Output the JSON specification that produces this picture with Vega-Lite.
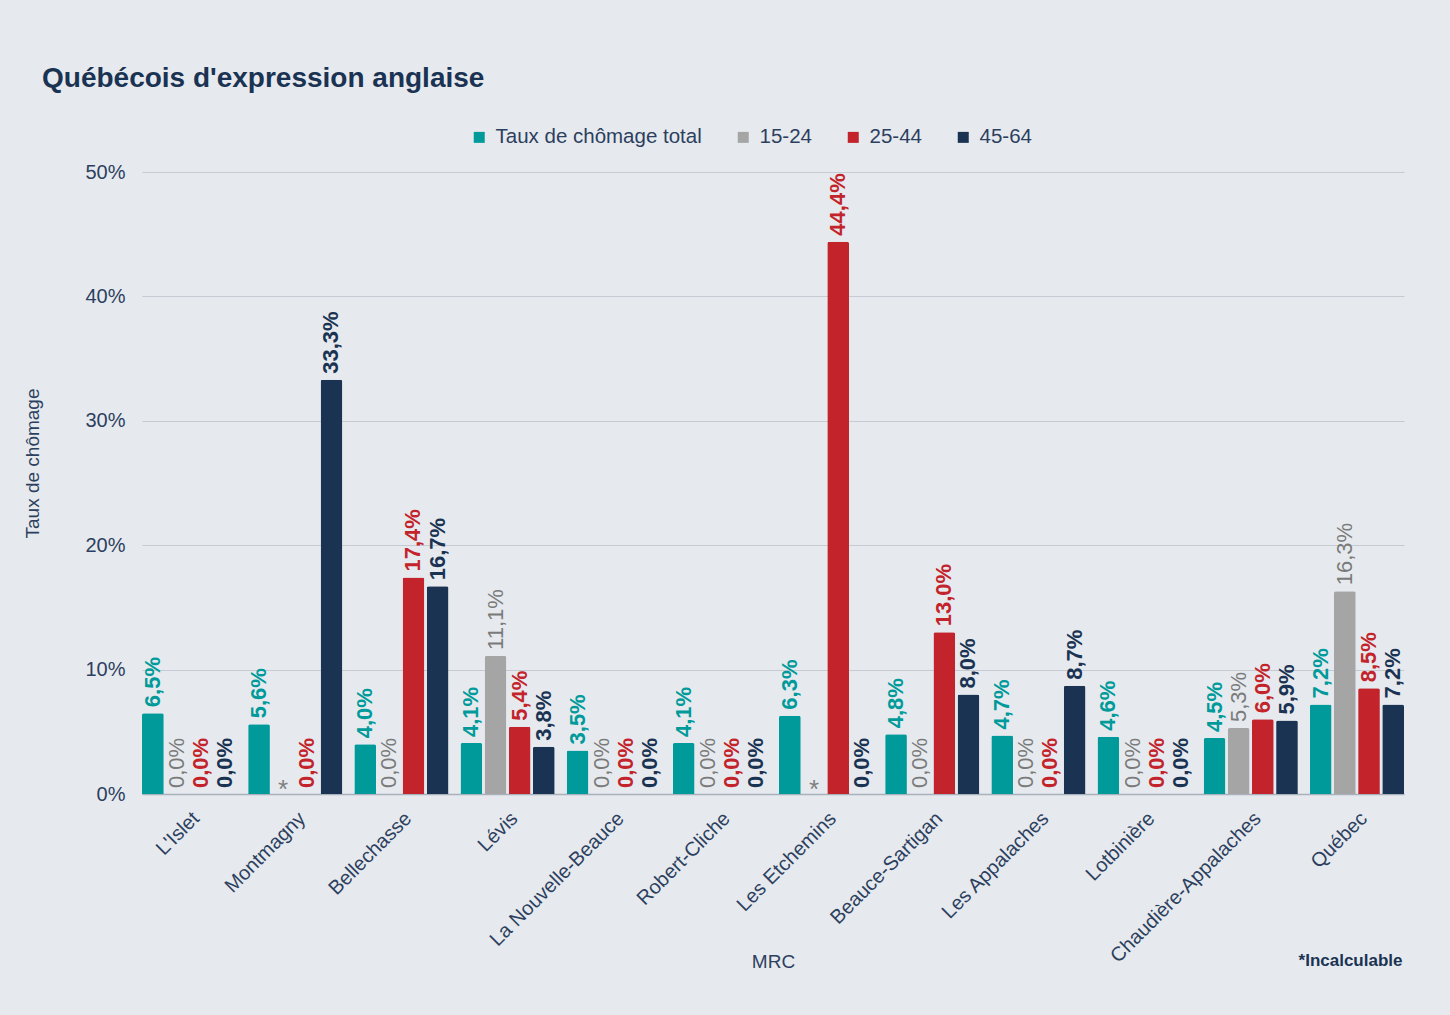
{
  "$schema": "https://vega.github.io/schema/vega-lite/v6.json",
  "autosize": {"type": "none"},
  "width": 1262,
  "height": 622,
  "padding": {"left": 142, "top": 172, "right": 46, "bottom": 221},
  "background": "#e6eaee",
  "config": {
    "locale": {"number": {"decimal": ",", "thousands": " ", "grouping": [3], "currency": ["", " $"]}},
    "font": "Liberation Sans",
    "view": {"stroke": null}
  },
  "title": {"text": "Québécois d'expression anglaise", "anchor": "start", "frame": "group", "dx": -100, "fontSize": 28, "fontWeight": "bold", "color": "#1b3353", "offset": 34},
  "data": {"values": [
    {"mrc": "L'Islet", "serie": "Taux de chômage total", "taux": 0.065},
    {"mrc": "L'Islet", "serie": "15-24", "taux": 0.0},
    {"mrc": "L'Islet", "serie": "25-44", "taux": 0.0},
    {"mrc": "L'Islet", "serie": "45-64", "taux": 0.0},
    {"mrc": "Montmagny", "serie": "Taux de chômage total", "taux": 0.056},
    {"mrc": "Montmagny", "serie": "15-24", "taux": null},
    {"mrc": "Montmagny", "serie": "25-44", "taux": 0.0},
    {"mrc": "Montmagny", "serie": "45-64", "taux": 0.333},
    {"mrc": "Bellechasse", "serie": "Taux de chômage total", "taux": 0.04},
    {"mrc": "Bellechasse", "serie": "15-24", "taux": 0.0},
    {"mrc": "Bellechasse", "serie": "25-44", "taux": 0.174},
    {"mrc": "Bellechasse", "serie": "45-64", "taux": 0.167},
    {"mrc": "Lévis", "serie": "Taux de chômage total", "taux": 0.041},
    {"mrc": "Lévis", "serie": "15-24", "taux": 0.111},
    {"mrc": "Lévis", "serie": "25-44", "taux": 0.054},
    {"mrc": "Lévis", "serie": "45-64", "taux": 0.038},
    {"mrc": "La Nouvelle-Beauce", "serie": "Taux de chômage total", "taux": 0.035},
    {"mrc": "La Nouvelle-Beauce", "serie": "15-24", "taux": 0.0},
    {"mrc": "La Nouvelle-Beauce", "serie": "25-44", "taux": 0.0},
    {"mrc": "La Nouvelle-Beauce", "serie": "45-64", "taux": 0.0},
    {"mrc": "Robert-Cliche", "serie": "Taux de chômage total", "taux": 0.041},
    {"mrc": "Robert-Cliche", "serie": "15-24", "taux": 0.0},
    {"mrc": "Robert-Cliche", "serie": "25-44", "taux": 0.0},
    {"mrc": "Robert-Cliche", "serie": "45-64", "taux": 0.0},
    {"mrc": "Les Etchemins", "serie": "Taux de chômage total", "taux": 0.063},
    {"mrc": "Les Etchemins", "serie": "15-24", "taux": null},
    {"mrc": "Les Etchemins", "serie": "25-44", "taux": 0.444},
    {"mrc": "Les Etchemins", "serie": "45-64", "taux": 0.0},
    {"mrc": "Beauce-Sartigan", "serie": "Taux de chômage total", "taux": 0.048},
    {"mrc": "Beauce-Sartigan", "serie": "15-24", "taux": 0.0},
    {"mrc": "Beauce-Sartigan", "serie": "25-44", "taux": 0.13},
    {"mrc": "Beauce-Sartigan", "serie": "45-64", "taux": 0.08},
    {"mrc": "Les Appalaches", "serie": "Taux de chômage total", "taux": 0.047},
    {"mrc": "Les Appalaches", "serie": "15-24", "taux": 0.0},
    {"mrc": "Les Appalaches", "serie": "25-44", "taux": 0.0},
    {"mrc": "Les Appalaches", "serie": "45-64", "taux": 0.087},
    {"mrc": "Lotbinière", "serie": "Taux de chômage total", "taux": 0.046},
    {"mrc": "Lotbinière", "serie": "15-24", "taux": 0.0},
    {"mrc": "Lotbinière", "serie": "25-44", "taux": 0.0},
    {"mrc": "Lotbinière", "serie": "45-64", "taux": 0.0},
    {"mrc": "Chaudière-Appalaches", "serie": "Taux de chômage total", "taux": 0.045},
    {"mrc": "Chaudière-Appalaches", "serie": "15-24", "taux": 0.053},
    {"mrc": "Chaudière-Appalaches", "serie": "25-44", "taux": 0.06},
    {"mrc": "Chaudière-Appalaches", "serie": "45-64", "taux": 0.059},
    {"mrc": "Québec", "serie": "Taux de chômage total", "taux": 0.072},
    {"mrc": "Québec", "serie": "15-24", "taux": 0.163},
    {"mrc": "Québec", "serie": "25-44", "taux": 0.085},
    {"mrc": "Québec", "serie": "45-64", "taux": 0.072}
  ]},
  "encoding": {
    "x": {
      "field": "mrc", "type": "nominal", "sort": null,
      "scale": {"paddingInner": 0.113, "paddingOuter": 0},
      "axis": {
        "title": "MRC", "labelAngle": -45, "labelFontSize": 20, "labelColor": "#2d3f5e", "labelLimit": 0,
        "labelPadding": 14, "ticks": false, "domainColor": "#a9b1bd", "domainWidth": 1.5,
        "titleFontSize": 19, "titleFontWeight": "normal", "titleColor": "#2d3f5e",
        "titleY": 167, "titleBaseline": "middle"
      }
    },
    "xOffset": {
      "field": "serie", "type": "nominal",
      "sort": ["Taux de chômage total", "15-24", "25-44", "45-64"],
      "scale": {"paddingInner": 0.1, "paddingOuter": 0}
    }
  },
  "layer": [
    {
      "encoding": {
        "y": {
          "field": "taux", "type": "quantitative",
          "scale": {"domain": [0, 0.5]},
          "axis": {
            "title": "Taux de chômage", "format": ".0%", "values": [0, 0.1, 0.2, 0.3, 0.4, 0.5],
            "labelFontSize": 20, "labelColor": "#2d3f5e", "labelPadding": 17,
            "ticks": false, "domain": false, "gridColor": "#c6cbd3", "gridWidth": 1,
            "titleFontSize": 19, "titleFontWeight": "normal", "titleColor": "#2d3f5e",
            "titleX": -110, "titleY": 291, "titleAlign": "center", "titleBaseline": "middle"
          }
        }
      },
      "layer": [
        {
          "mark": {"type": "bar", "cornerRadiusEnd": 2},
          "encoding": {
            "color": {
              "field": "serie", "type": "nominal",
              "sort": ["Taux de chômage total", "15-24", "25-44", "45-64"],
              "scale": {"domain": ["Taux de chômage total", "15-24", "25-44", "45-64"], "range": ["#009a9b", "#a5a5a5", "#c3232b", "#1b3353"]},
              "legend": {
                "title": null, "orient": "none", "direction": "horizontal", "legendX": 327, "legendY": -45,
                "symbolType": "square", "symbolSize": 121, "symbolStrokeWidth": 0, "labelFontSize": 20.5,
                "labelColor": "#2d3f5e", "labelOffset": 6, "labelLimit": 0, "columnPadding": 31, "padding": 0
              }
            }
          }
        },
        {
          "transform": [{"filter": "datum.taux !== null && datum.serie !== '15-24'"}],
          "mark": {"type": "text", "angle": 270, "align": "left", "baseline": "middle", "dx": 6, "fontSize": 22, "fontWeight": "bold"},
          "encoding": {
            "text": {"field": "taux", "type": "quantitative", "format": ".1%"},
            "color": {"field": "serie", "type": "nominal", "sort": ["Taux de chômage total", "15-24", "25-44", "45-64"]}
          }
        },
        {
          "transform": [{"filter": "datum.taux !== null && datum.serie === '15-24'"}],
          "mark": {"type": "text", "angle": 270, "align": "left", "baseline": "middle", "dx": 6, "fontSize": 22, "fontWeight": "normal", "color": "#7a7a7a"},
          "encoding": {
            "text": {"field": "taux", "type": "quantitative", "format": ".1%"}
          }
        }
      ]
    },
    {
      "transform": [{"filter": "datum.taux === null"}],
      "mark": {"type": "text", "text": "*", "align": "center", "baseline": "alphabetic", "dy": 4, "fontSize": 26, "color": "#7f7f7f"},
      "encoding": {
        "y": {
          "datum": 0, "type": "quantitative",
          "scale": {"domain": [0, 0.5]},
          "axis": {
            "orient": "right", "title": "*Incalculable", "labels": false, "ticks": false, "domain": false, "grid": false,
            "titleAngle": 0, "titleX": -2, "titleY": 788, "titleAlign": "right", "titleBaseline": "middle",
            "titleFontSize": 17, "titleFontWeight": "bold", "titleColor": "#1b3353"
          }
        }
      }
    }
  ],
  "resolve": {"scale": {"y": "independent"}, "axis": {"y": "independent"}}
}
